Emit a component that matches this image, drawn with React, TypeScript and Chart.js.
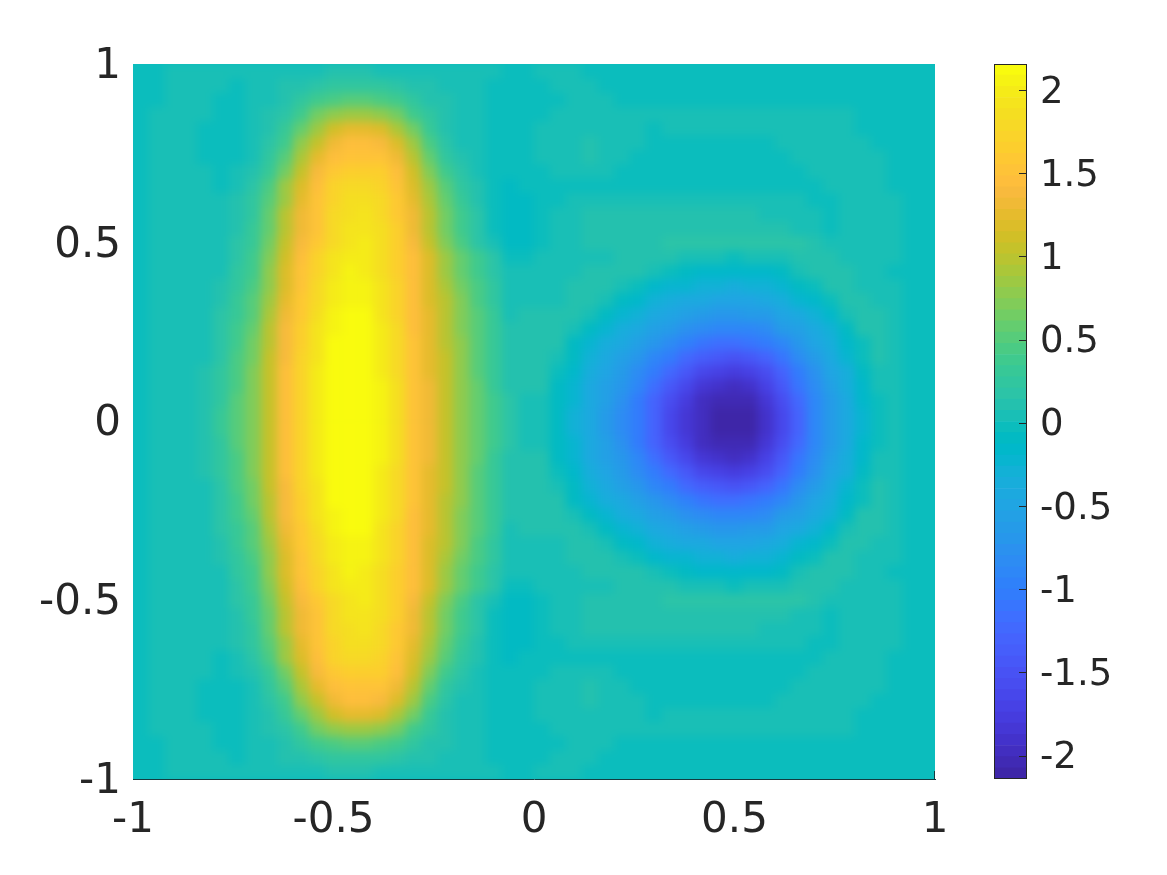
import React, { useEffect, useRef } from "react";
import { Chart, registerables } from "chart.js";

Chart.register(...registerables);

const xTicks = [-1, -0.5, 0, 0.5, 1];
const yTicks = [-1, -0.5, 0, 0.5, 1];
const barTicks = [-2, -1.5, -1, -0.5, 0, 0.5, 1, 1.5, 2];
const colorMin = -2.14;
const colorMax = 2.156;

// Field values: top half of the image, top row first.
const topHalfRows: number[][] = [
  [-.01,-.01,.01,.01,.01,.01,.02,.03, .03,.04,.04,.06,.08,.09,.08,.06,.04,.03,.03,.02,.01,.01, .01,0,0,.02,.02,.02,0,0,-.01,-.01,-.01,-.01,-.01,-.01, -.01,-.01,-.01,-.01,-.01,-.01,-.01,-.01,-.01,-.02,-.02,-.02,-.02,-.02],
  [-.01,0,.02,.03,.03,.01,0,.01, .04,.08,.13,.18,.23,.27,.27,.22,.16,.11,.08,.06,.04,.02, 0,-.01,-.01,0,.01,.01,.01,0,-.01,-.01,-.01,-.01,-.01,-.01, -.01,-.01,-.01,-.01,-.01,-.01,-.01,-.01,-.01,-.01,-.01,-.02,-.02,-.02],
  [-.01,0,.03,.04,.02,0,-.01,.01, .06,.13,.23,.36,.46,.52,.52,.46,.35,.23,.14,.09,.05,.02, 0,-.01,-.01,-.01,0,.01,.01,.01,0,-.01,-.01,-.01,-.01,-.01, -.01,-.01,-.01,-.01,-.01,-.01,-.01,-.01,-.01,-.01,-.01,-.02,-.02,-.02],
  [-.01,.01,.04,.04,.01,-.02,-.02,.01, .09,.2,.4,.62,.78,.86,.86,.78,.62,.4,.22,.11,.06,.02, -.01,-.02,-.01,0,.02,.03,.04,.04,.03,.01,.01,.02,.06,.06, .06,.06,.06,.06,.06,.06,.04,.02,.01,0,-.01,-.01,-.02,-.02],
  [-.01,.01,.04,.04,0,-.03,-.02,.02, .12,.28,.58,.86,1.1,1.25,1.28,1.15,.92,.62,.31,.14,.06,.02, -.02,-.02,-.01,.01,.04,.05,.06,.06,.04,.01,0,.01,.02,.02, .02,.02,.02,.03,.04,.06,.06,.04,.02,0,-.01,-.01,-.02,-.02],
  [-.01,.02,.04,.03,0,-.03,-.02,.04, .16,.4,.75,1.08,1.32,1.42,1.45,1.38,1.15,.82,.44,.18,.06,.01, -.02,-.02,-.01,.01,.05,.07,.08,.07,.05,.01,-.01,-.01,-.01,-.01, -.01,-.01,-.01,0,.01,.03,.05,.06,.04,.02,0,-.01,-.02,-.02],
  [-.01,.02,.04,.03,0,-.02,-.01,.06, .22,.52,.92,1.25,1.45,1.52,1.55,1.5,1.35,1,.58,.26,.09,.01, -.02,-.03,-.02,.01,.04,.07,.08,.06,.01,-.01,-.02,-.02,-.02,-.02, -.02,-.02,-.02,-.01,0,.01,.03,.05,.06,.03,.01,-.01,-.02,-.02],
  [-.01,.03,.05,.03,.01,-.01,.01,.09, .3,.65,1.08,1.38,1.58,1.65,1.68,1.62,1.45,1.12,.72,.38,.16,.04, -.03,-.04,-.03,-.01,.02,.04,.03,.01,-.01,-.02,-.02,-.02,-.02,-.02, -.02,-.02,-.02,-.02,-.01,0,.01,.03,.05,.05,.02,-.01,-.02,-.02],
  [-.01,.03,.05,.04,.02,0,.03,.18, .42,.82,1.18,1.48,1.7,1.78,1.8,1.73,1.52,1.2,.85,.52,.27,.1, -.03,-.06,-.04,-.03,-.02,-.01,-.01,-.01,-.02,-.02,-.01,-.01,-.01,-.01, -.01,-.01,-.01,-.01,-.01,-.01,0,.02,.04,.06,.03,0,-.02,-.02],
  [-.01,.03,.05,.04,.03,.01,.09,.22, .48,.88,1.25,1.5,1.74,1.84,1.85,1.78,1.56,1.25,.9,.58,.32,.13, -.03,-.07,-.06,-.04,-.01,.03,.06,.06,.06,.06,.06,.06,.06,.06, .06,.06,.05,.04,.03,.01,0,0,.02,.06,.04,.01,-.01,-.02],
  [-.01,.03,.05,.04,.03,.02,.1,.26, .55,.95,1.3,1.52,1.78,1.88,1.9,1.8,1.6,1.3,.95,.62,.35,.15, -.02,-.08,-.07,-.04,.02,.06,.08,.08,.08,.08,.08,.08,.08,.08, .08,.08,.08,.07,.06,.04,.01,0,.01,.05,.05,.02,-.01,-.02],
  [-.01,.03,.05,.04,.04,.03,.12,.3, .6,1,1.35,1.55,1.8,1.92,1.95,1.83,1.62,1.35,1,.65,.38,.16, 0,-.08,-.07,-.03,.03,.07,.09,.11,.13,.13,.13,.12,.12,.13, .13,.13,.12,.11,.09,.06,.03,0,.01,.04,.05,.02,-.01,-.02],
  [-.01,.03,.05,.05,.04,.04,.17,.33, .65,1.05,1.4,1.6,1.82,1.95,1.98,1.85,1.63,1.4,1.08,.72,.42,.17, .03,-.07,-.06,-.02,.04,.07,.08,.08,.08,.08,.14,.16,.16,.16, .16,.16,.16,.16,.16,.16,.08,.04,.01,.02,.04,.02,-.01,-.02],
  [-.01,.03,.05,.06,.05,.05,.2,.37, .7,1.1,1.47,1.72,1.92,2,1.98,1.85,1.65,1.45,1.15,.85,.58,.35, .18,0,0,.02,.05,.05,.07,.07,.08,.12,.12,.1,.06,.03, .01,0,.01,.03,.07,.11,.12,.08,.05,.02,.02,.01,-.01,-.02],
  [-.01,.03,.05,.06,.06,.06,.22,.4, .75,1.15,1.5,1.75,1.95,2.03,2.02,1.88,1.68,1.46,1.17,.88,.6,.38, .2,.01,.02,.05,.03,.05,.08,.12,.11,.09,.02,-.05,-.1,-.14, -.16,-.17,-.16,-.13,-.06,.02,.1,.12,.08,.05,.02,0,-.01,-.02],
  [-.01,.03,.05,.06,.06,.1,.25,.44, .8,1.2,1.53,1.78,1.98,2.06,2.05,1.9,1.7,1.47,1.18,.92,.64,.42, .22,.03,.05,.05,.05,.08,.12,.1,.03,-.04,-.13,-.2,-.26,-.3, -.32,-.33,-.32,-.27,-.21,-.12,0,.1,.12,.07,.05,.01,-.01,-.02],
  [-.01,.03,.05,.06,.06,.12,.28,.48, .85,1.25,1.56,1.8,2,2.08,2.07,1.92,1.72,1.47,1.2,.95,.68,.45, .25,.05,.06,.07,.07,.12,.1,.02,-.08,-.17,-.27,-.36,-.41,-.46, -.49,-.5,-.49,-.44,-.36,-.26,-.14,0,.1,.1,.06,.02,-.01,-.02],
  [-.01,.03,.05,.06,.06,.15,.33,.53, .92,1.32,1.6,1.84,2.04,2.12,2.1,1.95,1.75,1.47,1.22,.98,.72,.48, .28,.07,.08,.08,.08,.11,.02,-.1,-.2,-.3,-.41,-.5,-.58,-.63, -.68,-.7,-.66,-.6,-.52,-.41,-.28,-.14,.02,.1,.08,.02,-.01,-.02],
  [-.01,.03,.05,.06,.06,.17,.36,.58, .96,1.36,1.65,1.9,2.08,2.14,2.12,1.97,1.77,1.48,1.24,1,.73,.5, .3,.09,.09,.08,.12,.06,-.08,-.2,-.35,-.44,-.55,-.66,-.77,-.84, -.9,-.91,-.87,-.8,-.66,-.53,-.42,-.27,-.08,.08,.09,.03,-.01,-.02],
  [-.01,.03,.05,.06,.07,.19,.38,.62, 1,1.38,1.68,1.93,2.1,2.15,2.14,1.98,1.78,1.49,1.25,1,.75,.52, .31,.11,.1,.12,.08,-.06,-.2,-.35,-.45,-.55,-.71,-.84,-.97,-1.07, -1.15,-1.18,-1.13,-1.02,-.87,-.68,-.52,-.36,-.15,0,.1,.04,-.01,-.02],
  [-.01,.03,.05,.06,.07,.2,.42,.66, 1.02,1.4,1.7,1.95,2.12,2.15,2.14,2,1.8,1.5,1.27,1.02,.76,.53, .32,.12,.1,.12,.04,-.12,-.27,-.42,-.54,-.71,-.87,-1.05,-1.24,-1.38, -1.46,-1.5,-1.44,-1.3,-1.07,-.84,-.63,-.44,-.26,-.05,.08,.03,-.01,-.02],
  [-.01,.03,.05,.06,.08,.22,.45,.68, 1.04,1.42,1.72,1.98,2.14,2.15,2.15,2.02,1.82,1.5,1.28,1.03,.78,.54, .33,.13,.12,.1,-.03,-.19,-.36,-.47,-.64,-.82,-1.03,-1.26,-1.46,-1.62, -1.72,-1.76,-1.71,-1.55,-1.3,-1,-.74,-.52,-.33,-.11,.07,.03,-.01,-.02],
  [-.01,.03,.05,.06,.08,.24,.47,.7, 1.05,1.43,1.73,2,2.15,2.15,2.15,2.03,1.83,1.5,1.29,1.04,.79,.55, .34,.14,.1,.08,-.07,-.22,-.4,-.54,-.72,-.93,-1.15,-1.42,-1.65,-1.82, -1.91,-1.95,-1.9,-1.72,-1.46,-1.12,-.84,-.58,-.39,-.16,.02,.03,-.01,-.03],
  [-.01,.03,.05,.06,.08,.26,.48,.71, 1.06,1.44,1.74,2,2.15,2.15,2.15,2.04,1.84,1.5,1.3,1.05,.8,.55, .35,.15,.06,.05,-.1,-.26,-.44,-.58,-.78,-1,-1.28,-1.56,-1.8,-1.95, -2.03,-2.07,-2.01,-1.86,-1.6,-1.24,-.9,-.62,-.41,-.19,0,.02,-.01,-.03],
  [-.01,.03,.05,.06,.09,.28,.5,.72, 1.07,1.45,1.75,2.02,2.15,2.15,2.15,2.05,1.85,1.5,1.3,1.05,.8,.55, .36,.15,.05,.04,-.11,-.27,-.44,-.61,-.82,-1.03,-1.33,-1.62,-1.85,-2, -2.11,-2.14,-2.08,-1.92,-1.65,-1.3,-.93,-.64,-.43,-.2,0,.02,-.01,-.03],
];

// Image is mirrored top to bottom about y = 0.
const fieldRows: number[][] = [...topHalfRows, ...[...topHalfRows].reverse()];

const parula: number[][] = [
  [.2422,.1504,.6603],[.2504,.165,.7076],[.2578,.1818,.7511],[.2647,.1978,.7952],[.2706,.2147,.8364],[.2751,.2342,.871],[.2783,.2559,.8991],[.2803,.2782,.9221],
  [.2813,.3006,.9414],[.281,.3228,.9579],[.2795,.3447,.9717],[.276,.3667,.9829],[.2699,.3892,.9906],[.2602,.4123,.9952],[.244,.4358,.9988],[.2206,.4603,.9973],
  [.1963,.4847,.9892],[.1834,.5074,.9798],[.1786,.5289,.9682],[.1764,.5499,.952],[.1687,.5703,.9359],[.154,.5902,.9218],[.146,.6091,.9079],[.138,.6276,.8973],
  [.1248,.6459,.8883],[.1113,.6635,.8763],[.0952,.6798,.8598],[.0689,.6948,.8394],[.0297,.7082,.8163],[.0036,.7203,.7917],[.0067,.7312,.766],[.0433,.7411,.7394],
  [.0964,.75,.712],[.1408,.7584,.6842],[.1717,.767,.6554],[.1938,.7758,.6251],[.2161,.7843,.5923],[.247,.7918,.5567],[.2906,.7973,.5188],[.3406,.8008,.4789],
  [.3909,.8029,.4354],[.4456,.8024,.3909],[.5044,.7993,.348],[.5616,.7942,.3045],[.6174,.7876,.2612],[.672,.7793,.2227],[.7242,.7698,.191],[.7738,.7598,.1646],
  [.8203,.7498,.1535],[.8634,.7406,.1596],[.9035,.733,.1774],[.9393,.7288,.21],[.9728,.7298,.2394],[.9956,.7434,.2371],[.997,.7659,.2199],[.9952,.7861,.199],
  [.9892,.8086,.175],[.9785,.8287,.163],[.97,.8515,.1486],[.9626,.8705,.1309],[.9589,.8949,.1132],[.9598,.9218,.0948],[.9661,.9514,.0755],[.9763,.9831,.0538],
];

const INK = "#262626";
const AXIS_FONT = { family: "'DejaVu Sans'", size: 42 };
const BAR_FONT = { family: "'DejaVu Sans'", size: 37 };
const EDGE = "#123c40";

function colorFor(v: number): string {
  const t = (v - colorMin) / (colorMax - colorMin);
  const i = Math.min(parula.length - 1, Math.max(0, Math.floor(t * parula.length)));
  const c = parula[i];
  return `rgb(${Math.round(c[0] * 255)},${Math.round(c[1] * 255)},${Math.round(c[2] * 255)})`;
}

export default function App() {
  const heatRef = useRef<HTMLCanvasElement>(null);
  const axesRef = useRef<HTMLCanvasElement>(null);
  const barRef = useRef<HTMLCanvasElement>(null);

  useEffect(() => {
    const nRows = fieldRows.length;
    const nCols = fieldRows[0].length;
    const axisX = (extra: object) => ({
      type: "linear",
      min: -1,
      max: 1,
      offset: false,
      afterFit: (s: any) => { s.height = 96; },
      ...extra,
    });
    const axisY = (extra: object) => ({
      type: "linear",
      min: -1,
      max: 1,
      afterFit: (s: any) => { s.width = 133; },
      ...extra,
    });

    // The heat field; its canvas is softened by CSS to match the fine grid of the source image.
    const heat = new Chart(heatRef.current!, {
      type: "bar",
      data: {
        datasets: fieldRows.map((row, r) => ({
          data: row.map((_, c) => ({
            x: -1 + (2 * (c + 0.5)) / nCols,
            y: [1 - (2 * (r + 1)) / nRows, 1 - (2 * r) / nRows],
          })),
          backgroundColor: row.map(colorFor),
          borderWidth: 0,
          barPercentage: 1,
          categoryPercentage: 1,
          grouped: false,
        })),
      } as any,
      options: {
        responsive: false,
        animation: false,
        events: [],
        layout: { padding: { top: 64, right: 232, left: 0, bottom: 0 } },
        plugins: { legend: { display: false }, tooltip: { enabled: false } },
        scales: {
          x: axisX({ grid: { display: false, offset: false }, border: { display: false }, ticks: { color: "transparent" } }),
          y: axisY({ grid: { display: false }, border: { display: false }, ticks: { color: "transparent" } }),
        },
      } as any,
      plugins: [
        {
          id: "heatBackdrop",
          beforeDraw(chart: any) {
            const { ctx, width, height } = chart;
            ctx.save();
            ctx.fillStyle = colorFor(fieldRows[0][0]);
            ctx.fillRect(0, 0, width, height);
            ctx.restore();
          },
        },
      ],
    });

    const axes = new Chart(axesRef.current!, {
      type: "scatter",
      data: { datasets: [{ data: [] }] },
      options: {
        responsive: false,
        animation: false,
        events: [],
        layout: { padding: { top: 64, right: 232, left: 0, bottom: 0 } },
        plugins: { legend: { display: false }, tooltip: { enabled: false } },
        scales: {
          x: axisX({
            afterBuildTicks: (s: any) => { s.ticks = xTicks.map((value) => ({ value })); },
            grid: { display: false },
            border: { display: true, color: EDGE, width: 1 },
            ticks: { color: INK, font: AXIS_FONT, padding: 9, maxRotation: 0, autoSkip: false, callback: (v: any) => String(v) },
          }),
          y: axisY({
            afterBuildTicks: (s: any) => { s.ticks = yTicks.map((value) => ({ value })); },
            grid: { display: false },
            border: { display: false },
            ticks: { color: INK, font: AXIS_FONT, padding: 4, labelOffset: 3, autoSkip: false, callback: (v: any) => String(v) },
          }),
        },
      } as any,
      plugins: [
        {
          id: "cornerTick",
          afterDraw(chart: any) {
            const { ctx, scales } = chart;
            const x = scales.x.getPixelForValue(xTicks[xTicks.length - 1]);
            const y = scales.y.getPixelForValue(yTicks[0]);
            ctx.save();
            ctx.strokeStyle = EDGE;
            ctx.lineWidth = 1;
            ctx.beginPath();
            ctx.moveTo(x - 0.5, y);
            ctx.lineTo(x - 0.5, y - 8);
            ctx.stroke();
            ctx.restore();
          },
        },
      ],
    });

    const levels = parula.map((_, i) => i);
    const step = (colorMax - colorMin) / levels.length;
    const bar = new Chart(barRef.current!, {
      type: "bar",
      data: {
        labels: [""],
        datasets: levels.map((i) => ({
          data: [[colorMin + i * step, colorMin + (i + 1) * step]],
          backgroundColor: colorFor(colorMin + (i + 0.5) * step),
          borderWidth: 0,
          barPercentage: 1,
          categoryPercentage: 1,
          grouped: false,
        })),
      } as any,
      options: {
        responsive: false,
        animation: false,
        events: [],
        layout: { padding: { top: 64, left: 994, right: 0, bottom: 96 } },
        plugins: { legend: { display: false }, tooltip: { enabled: false } },
        scales: {
          x: { display: false },
          y: {
            position: "right",
            type: "linear",
            min: colorMin,
            max: colorMax,
            afterBuildTicks: (s: any) => { s.ticks = barTicks.map((value) => ({ value })); },
            afterFit: (s: any) => { s.width = 140; },
            grid: { display: false },
            border: { display: false },
            ticks: { color: INK, font: BAR_FONT, padding: 5, labelOffset: 3, autoSkip: false, callback: (v: any) => String(v) },
          },
        },
      } as any,
      plugins: [
        {
          id: "barFrame",
          afterDatasetsDraw(chart: any) {
            const { ctx, chartArea, scales } = chart;
            ctx.save();
            ctx.strokeStyle = INK;
            ctx.lineWidth = 1;
            ctx.strokeRect(chartArea.left + 0.5, chartArea.top + 0.5, chartArea.right - chartArea.left - 1, chartArea.bottom - chartArea.top - 1);
            ctx.beginPath();
            barTicks.forEach((t) => {
              const y = Math.round(scales.y.getPixelForValue(t)) + 0.5;
              ctx.moveTo(chartArea.right - 8, y);
              ctx.lineTo(chartArea.right, y);
            });
            ctx.stroke();
            ctx.restore();
          },
        },
      ],
    });

    return () => {
      heat.destroy();
      axes.destroy();
      bar.destroy();
    };
  }, []);

  const layer: React.CSSProperties = { position: "absolute", left: 0, top: 0 };
  return (
    <div style={{ position: "absolute", left: 0, top: 0, width: 1167, height: 875, background: "#fff", overflow: "hidden" }}>
      <div style={{ position: "absolute", left: 133, top: 64, width: 802, height: 715, overflow: "hidden" }}>
        <canvas
          ref={heatRef}
          width={1167}
          height={875}
          style={{ position: "absolute", left: -133, top: -64, filter: "blur(5px)" }}
        />
      </div>
      <canvas ref={axesRef} width={1167} height={875} style={layer} />
      <canvas ref={barRef} width={1167} height={875} style={layer} />
    </div>
  );
}
